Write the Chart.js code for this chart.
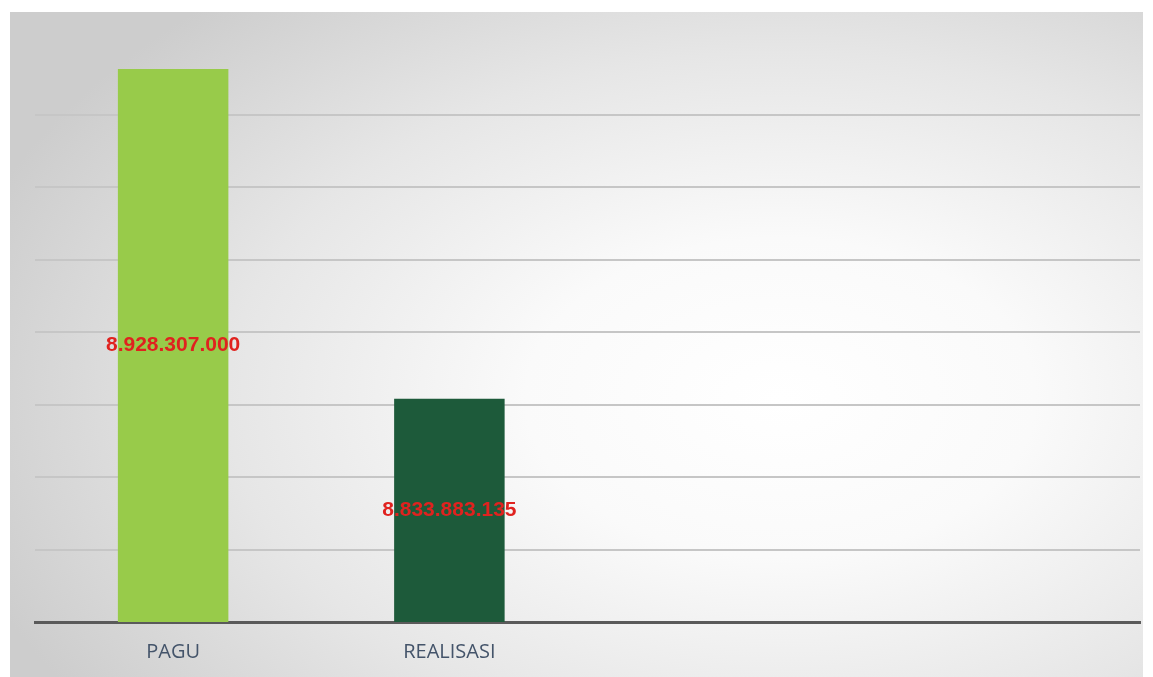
<!DOCTYPE html>
<html>
<head>
<meta charset="utf-8">
<script src="https://cdn.jsdelivr.net/npm/chart.js@4.4.1/dist/chart.umd.min.js"></script>
<style>
    html, body { margin: 0; padding: 0; background: #ffffff; }
    #wrap { position: relative; width: 1153px; height: 677px; overflow: hidden; }
    #panel {
        position: absolute; left: 10px; top: 12px; width: 1133px; height: 665px;
        background: radial-gradient(ellipse 75% 80% at 68% 58%, #ffffff 0%, #fafafa 30%, #e6e6e6 65%, #cdcdcd 100%);
    }
    #chart { position: absolute; left: 0; top: 0; }
</style>
</head>
<body>
<div id="wrap">
    <div id="panel"></div>
    <canvas id="chart" width="1153" height="695"></canvas>
</div>
<script>
// Data
var categories = ['PAGU', 'REALISASI', '', ''];
var values = [8928307000, 8833883135, null, null];
var barColors = ['#98cb4a', '#1d5a3a', '#98cb4a', '#1d5a3a'];

// Value axis range (the axis does not start at zero)
var yMin = 8770000000;
var yMax = 8936000000;

function formatRupiah(n) {
    return String(Math.round(n)).replace(/\B(?=(\d{3})+(?!\d))/g, '.');
}

// Draw the red value in the middle of the visible part of each bar
var barValueLabels = {
    id: 'barValueLabels',
    afterDatasetsDraw: function(chart) {
        var ctx = chart.ctx;
        var meta = chart.getDatasetMeta(0);
        var bottom = chart.chartArea.bottom;
        ctx.save();
        ctx.font = 'bold 21px "Liberation Sans", Arial, sans-serif';
        ctx.fillStyle = '#e0221f';
        ctx.textAlign = 'center';
        ctx.textBaseline = 'middle';
        meta.data.forEach(function(bar, i) {
            var v = values[i];
            if (v === null || v === undefined) return;
            var base = Math.min(bar.base, bottom);
            ctx.fillText(formatRupiah(v), bar.x, (bar.y + base) / 2);
        });
        ctx.restore();
    }
};

new Chart(document.getElementById('chart'), {
    type: 'bar',
    data: {
        labels: categories,
        datasets: [{
            data: values,
            backgroundColor: barColors,
            borderWidth: 0,
            categoryPercentage: 1,
            barPercentage: 0.4
        }]
    },
    options: {
        responsive: false,
        animation: false,
        layout: {
            padding: { left: 35, right: 13, top: 42, bottom: 13 }
        },
        plugins: {
            legend: { display: false },
            tooltip: { enabled: false }
        },
        scales: {
            x: {
                grid: { display: false, drawTicks: false },
                border: { display: true, color: '#5a5a5a', width: 3 },
                ticks: {
                    color: '#44546a',
                    padding: 18,
                    font: { family: '"Open Sans", sans-serif', size: 20 }
                }
            },
            y: {
                min: yMin,
                max: yMax,
                border: { display: false },
                grid: {
                    drawTicks: false,
                    lineWidth: 2,
                    color: function(c) {
                        if (c.tick && (c.tick.value >= yMax || c.tick.value <= yMin)) return 'rgba(0,0,0,0)';
                        return '#c6c6c6';
                    }
                },
                ticks: { display: false, count: 9 }
            }
        }
    },
    plugins: [barValueLabels]
});
</script>
</body>
</html>
